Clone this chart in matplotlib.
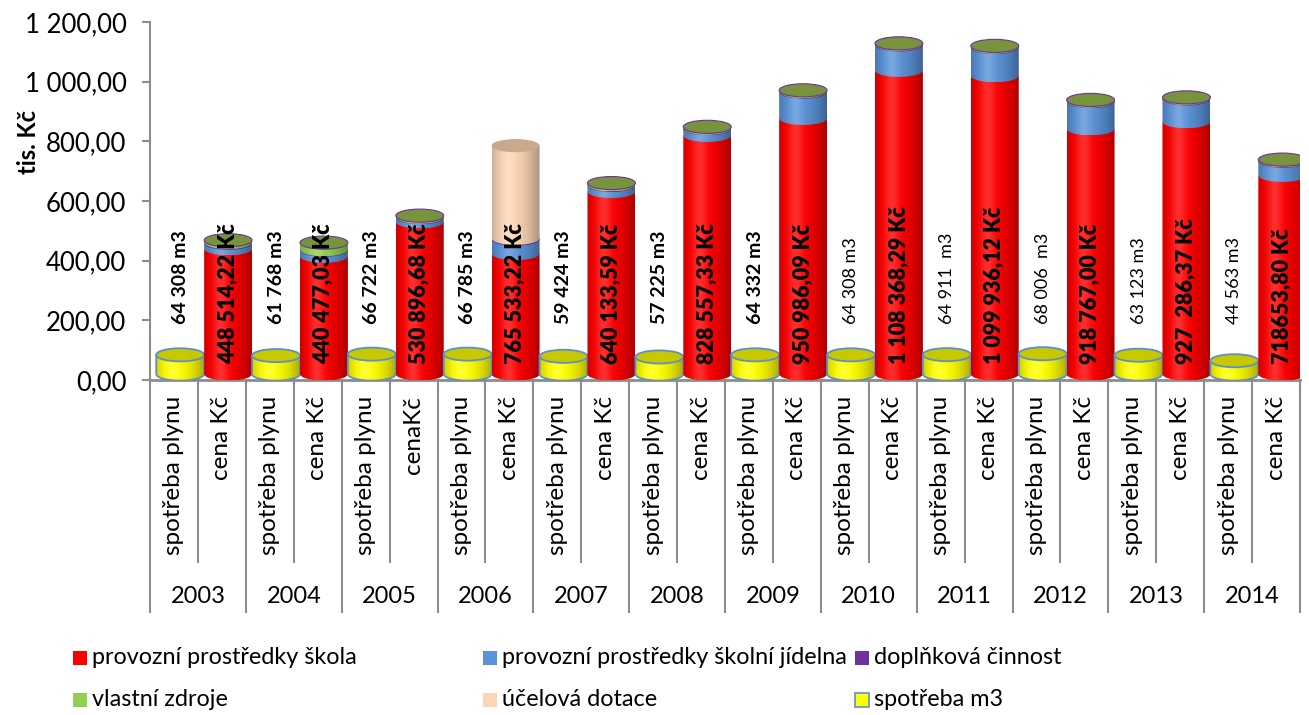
import matplotlib
matplotlib.use("Agg")
from matplotlib import pyplot as plt
from matplotlib.patches import Ellipse, PathPatch, Rectangle
from matplotlib.path import Path
from matplotlib.transforms import blended_transform_factory
import numpy as np


# Data (tis. Kc)
years = ["2003", "2004", "2005", "2006", "2007", "2008", "2009", "2010", "2011", "2012", "2013", "2014"]
cat_names = ["spotřeba plynu", "cena Kč"] * 12
cat_names[5] = "cenaKč"

gas_m3 = [64.308, 61.768, 66.722, 66.785, 59.424, 57.225, 64.332, 64.308, 64.911, 68.006, 63.123, 44.563]
school = [420, 395, 510, 404, 612, 800, 857, 1018, 1000, 822, 846, 666]
canteen = [18, 20, 14, 48, 20, 22, 88, 85, 94, 91, 76, 47]
extra = [3, 2, 2, 3, 2, 2, 2, 2, 2, 2, 2, 2]
own = [7.5, 23.5, 4.9, 0, 6.1, 4.6, 4, 3.4, 3.9, 3.8, 3.3, 3.7]
grant = [0, 0, 0, 310.5, 0, 0, 0, 0, 0, 0, 0, 0]

gas_labels = ["64 308 m3", "61 768 m3", "66 722 m3", "66 785 m3", "59 424 m3", "57 225 m3",
              "64 332 m3", "64 308 m3", "64 911  m3", "68 006  m3", "63 123 m3", "44 563 m3"]
gas_bold = [True] * 7 + [False] * 5
cost_labels = ["448 514,22 Kč", "440 477,03 Kč", "530 896,68 Kč", "765 533,22 Kč", "640 133,59 Kč",
               "828 557,33 Kč", "950 986,09 Kč", "1 108 368,29 Kč", "1 099 936,12 Kč",
               "918 767,00 Kč", "927  286,37 Kč", "718653,80 Kč"]

series_names = ["provozní prostředky škola", "provozní prostředky školní jídelna", "doplňková činnost",
                "vlastní zdroje", "účelová dotace", "spotřeba m3"]
series_colors = ["#FF0000", "#5B93D8", "#7030A0", "#92D050", "#FCD5B5", "#FFFF00"]
cap_colors = ["#D00000", "#4A7FC0", "#7030A0", "#77933C", "#C9A88C", "#C8C800"]


# Look
plt.rcParams["font.family"] = ["Lato", "DejaVu Sans"]
bar_w = 1.0
shift = 0.13
ell_h = 44
lift = 20
grey = "#8C8C8C"


def shade(color):
    rgb = np.array(matplotlib.colors.to_rgb(color))
    t = np.linspace(0, 1, 80)
    b = np.where(t < 0.35, 1 - 0.18 * ((0.35 - t) / 0.35) ** 2, 1 - 0.32 * ((t - 0.35) / 0.65) ** 2)
    hl = 0.18 * np.exp(-((t - 0.35) / 0.15) ** 2)
    cols = rgb[None, :] * b[:, None] + hl[:, None] * (1 - rgb[None, :])
    return np.clip(cols, 0, 1)[None, :, :]


def cylinder_part(ax, xc, y0, y1, color, z, edge=None):
    left, right = xc - bar_w / 2, xc + bar_w / 2
    c0, c1 = y0 + lift, y1 + lift
    t = np.linspace(np.pi, 2 * np.pi, 50)
    verts = [(left, c1)] + list(zip(xc + bar_w / 2 * np.cos(t), c0 + ell_h / 2 * np.sin(t))) + [(right, c1), (left, c1)]
    codes = [Path.MOVETO] + [Path.LINETO] * (len(verts) - 2) + [Path.CLOSEPOLY]
    patch = PathPatch(Path(verts, codes), facecolor="none", edgecolor="none", zorder=z)
    ax.add_patch(patch)
    img = ax.imshow(shade(color), extent=(left, right, c0 - ell_h / 2, c1), aspect="auto",
                    origin="lower", interpolation="bilinear", zorder=z)
    img.set_clip_path(patch)
    if edge:
        ax.add_patch(PathPatch(Path(verts, codes), facecolor="none", edgecolor=edge, lw=1.3, zorder=z + 0.1))


fig = plt.figure(figsize=(13.09, 7.15), dpi=100)
ax = fig.add_axes([150 / 1309, 1 - 380 / 715, 1150 / 1309, 358 / 715])

z = 1
for i in range(12):
    # gas consumption cylinder
    xg = 2 * i + shift
    cylinder_part(ax, xg, 0, gas_m3[i], series_colors[5], z, edge="#5B8FD0")
    ax.add_patch(Ellipse((xg, gas_m3[i] + lift), bar_w, ell_h, facecolor=cap_colors[5],
                         edgecolor="#5B8FD0", lw=1.3, zorder=z + 0.5))
    z += 1

    # cost cylinder, stacked
    xc = 2 * i + 1 + shift
    parts = [school[i], canteen[i], extra[i], own[i], grant[i]]
    base = 0
    top_k = 0
    for k, v in enumerate(parts):
        if v <= 0:
            continue
        cylinder_part(ax, xc, base, base + v, series_colors[k], z)
        z += 1
        base += v
        top_k = k
    rim = "#7030A0" if top_k == 3 else "none"
    ax.add_patch(Ellipse((xc, base + lift), bar_w, ell_h, facecolor=cap_colors[top_k],
                         edgecolor=rim, lw=0.8, zorder=z))
    z += 1

    # value labels
    ax.text(xg, 188, gas_labels[i], rotation=90, ha="center", va="bottom", fontsize=14 if gas_bold[i] else 13,
            fontweight="bold" if gas_bold[i] else "normal", zorder=500)
    ax.text(xc, 55, cost_labels[i], rotation=90, ha="center", va="bottom", fontsize=15.5,
            fontweight="heavy", zorder=500)

ax.set_xlim(-0.5, 23.5)
ax.set_ylim(0, 1200)

# axes style
for s in ["top", "right", "bottom"]:
    ax.spines[s].set_visible(False)
ax.spines["left"].set_color(grey)
ax.spines["left"].set_linewidth(1.5)
ax.axhline(0, color=grey, lw=2, zorder=0.5, clip_on=False)
ax.set_yticks(range(0, 1201, 200))
ax.set_yticklabels([f"{v:,.2f}".replace(",", " ").replace(".", ",") for v in range(0, 1201, 200)], fontsize=18.5)
ax.tick_params(axis="y", direction="out", length=6, color=grey, width=1.5, pad=11)
ax.set_xticks([])

# two level category axis
tr = blended_transform_factory(ax.transData, ax.transAxes)
for j in range(25):
    depth = -0.648 if j % 2 == 0 else -0.508
    ax.plot([j - 0.5, j - 0.5], [0, depth], color=grey, lw=1.5, transform=tr, clip_on=False)
for j, name in enumerate(cat_names):
    ax.text(j, -0.045, name, rotation=90, ha="center", va="top", fontsize=17.5, transform=tr)
for i, yr in enumerate(years):
    ax.text(2 * i + 0.5, -0.606, yr, ha="center", va="center", fontsize=17, transform=tr)

fig.text(28 / 1309, 1 - 142 / 715, "tis. Kč", rotation=90, ha="center", va="center", fontsize=17, fontweight="bold")

# legend, drawn by hand to get the column spacing
col_x = [73, 483, 855]
row_y = [658, 700]
for k, name in enumerate(series_names):
    px, py = col_x[k % 3], row_y[k // 3]
    edge = "#5B8FD0" if k == 5 else "none"
    fig.add_artist(Rectangle((px / 1309, 1 - (py + 7) / 715), 14 / 1309, 14 / 715,
                             facecolor=series_colors[k], edgecolor=edge, lw=1.2, transform=fig.transFigure))
    fig.text((px + 19) / 1309, 1 - py / 715, name, ha="left", va="center", fontsize=16.8)

fig.savefig("out.png", dpi=100)
